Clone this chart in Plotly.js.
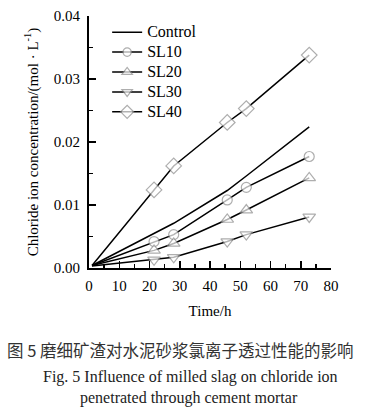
<!DOCTYPE html>
<html>
<head>
<meta charset="utf-8">
<script src="https://cdn.plot.ly/plotly-3.0.1.min.js"></script>
<style>html,body{margin:0;padding:0;background:#fff;}#chart{width:371px;height:412px;}</style>
</head>
<body>
<div id="chart"></div>
<script>
var time = [1, 21.5, 28, 45.7, 52, 72.8];
var seriesNames = ["Control", "SL10", "SL20", "SL30", "SL40"];
var control = [0.0004, 0.0054, 0.0071, 0.0123, 0.0146, 0.0224];
var sl10 = [0.0004, 0.0042, 0.0053, 0.0108, 0.0128, 0.0177];
var sl20 = [0.0004, 0.0028, 0.0039, 0.0077, 0.0092, 0.0143];
var sl30 = [0.0003, 0.0013, 0.0017, 0.0042, 0.0053, 0.0081];
var sl40 = [0.0004, 0.0124, 0.0162, 0.0231, 0.0253, 0.0338];
var xTickVals = [0, 10, 20, 30, 40, 50, 60, 70, 80];
var yTickVals = [0, 0.01, 0.02, 0.03, 0.04];
var yTickText = ["0.00", "0.01", "0.02", "0.03", "0.04"];

var serif = "Liberation Serif";

function sizes(arr, s) { return arr.map(function(v, i){ return i === 0 ? 0 : s; }); }
function mk(sym, arr, s) {
  return {symbol: sym, size: sizes(arr, s), color: "#fff", line: {color: "#8c8c8c", width: 1.2}};
}
function legName(n) { return '<span style="font-size:16px">' + n + '</span>'; }

var traces = [
  {x: time, y: control, name: legName(seriesNames[0]), mode: "lines", line: {color: "#000", width: 1.5}},
  {x: time, y: sl10, name: legName(seriesNames[1]), mode: "lines+markers", line: {color: "#000", width: 1.5}, marker: mk("circle", sl10, 10)},
  {x: time, y: sl20, name: legName(seriesNames[2]), mode: "lines+markers", line: {color: "#000", width: 1.5}, marker: mk("triangle-up", sl20, 11)},
  {x: time, y: sl30, name: legName(seriesNames[3]), mode: "lines+markers", line: {color: "#000", width: 1.5}, marker: mk("triangle-down", sl30, 11)},
  {x: time, y: sl40, name: legName(seriesNames[4]), mode: "lines+markers", line: {color: "#000", width: 1.5}, marker: mk("diamond", sl40, 12)}
];

var layout = {
  width: 371, height: 412,
  margin: {l: 89, r: 40, t: 16, b: 144, pad: 0},
  paper_bgcolor: "#fff", plot_bgcolor: "#fff",
  font: {family: serif, size: 14, color: "#000"},
  showlegend: true,
  legend: {x: 0.075, y: 0.995, xanchor: "left", yanchor: "top", bgcolor: "rgba(0,0,0,0)",
           font: {family: serif, size: 13, color: "#000"}, tracegroupgap: 0, itemwidth: 30},
  xaxis: {range: [0, 80], tickvals: xTickVals, ticks: "inside", ticklen: 7, tickwidth: 1.5, tickcolor: "#000",
          showline: true, linecolor: "#000", linewidth: 2, showgrid: false, zeroline: false,
          tickfont: {family: serif, size: 15}, ticklabelstandoff: 3,
          minor: {dtick: 5, ticks: "inside", ticklen: 4, tickwidth: 1.5, tickcolor: "#000", showgrid: false},
          title: {text: "Time/h", font: {family: serif, size: 15}, standoff: 12}},
  yaxis: {range: [0, 0.04], tickvals: yTickVals, ticktext: yTickText, ticks: "inside", ticklen: 7, tickwidth: 1.5, tickcolor: "#000",
          showline: true, linecolor: "#000", linewidth: 2, showgrid: false, zeroline: false,
          tickfont: {family: serif, size: 15}, ticklabelstandoff: 4,
          minor: {dtick: 0.005, ticks: "inside", ticklen: 4, tickwidth: 1.5, tickcolor: "#000", showgrid: false},
          title: {text: "Chloride ion concentration/(mol · L<sup>-1</sup>)", font: {family: serif, size: 15}, standoff: 12}},
  annotations: [
    {text: "图 5 磨细矿渣对水泥砂浆氯离子透过性能的影响", xref: "paper", yref: "paper", x: 0.38, y: -0.325,
     xanchor: "center", yanchor: "middle", showarrow: false, font: {family: "Noto Sans CJK SC", size: 16.5, color: "#333"}},
    {text: "Fig. 5 Influence of milled slag on chloride ion", xref: "paper", yref: "paper", x: 0.42, y: -0.4325,
     xanchor: "center", yanchor: "middle", showarrow: false, font: {family: serif, size: 16, color: "#222"}},
    {text: "penetrated through cement mortar", xref: "paper", yref: "paper", x: 0.413, y: -0.516,
     xanchor: "center", yanchor: "middle", showarrow: false, font: {family: serif, size: 16, color: "#222"}}
  ]
};

Plotly.newPlot("chart", traces, layout, {displayModeBar: false, staticPlot: true});
</script>
</body>
</html>
